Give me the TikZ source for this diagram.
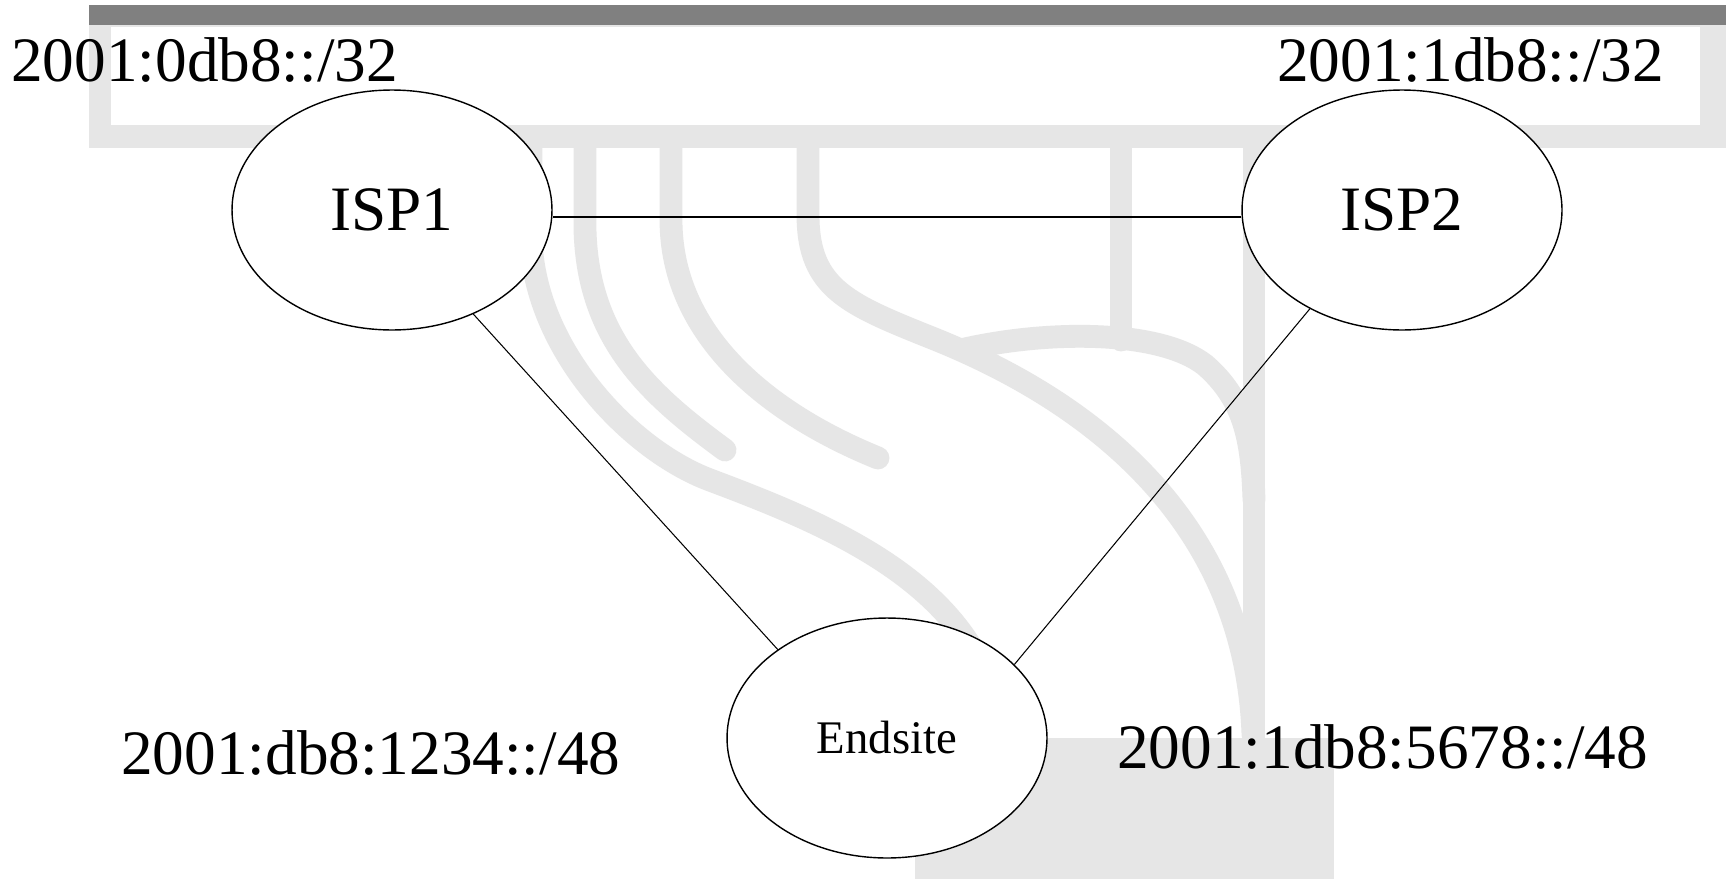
\documentclass[tikz,border=0pt]{standalone}
\usepackage{fontspec}
\setmainfont{Liberation Serif}
\usetikzlibrary{shapes.geometric}
\definecolor{wm}{HTML}{E6E6E6}
\definecolor{barc}{HTML}{808080}
\begin{document}
\begin{tikzpicture}[x=0.02cm,y=-0.02cm,
  wmline/.style={draw=wm,line width=13pt,line cap=round,line join=round},
  ispnode/.style={ellipse,draw,line width=0.8pt,fill=white,minimum width=6.4cm,minimum height=4.8cm,inner sep=0pt},
  bigtext/.style={font=\fontsize{36}{40}\selectfont},
  lbl/.style={bigtext,anchor=base west,inner sep=0pt},
  link/.style={line width=0.6pt}]
\useasboundingbox (0,0) rectangle (1726,879);
\fill[white] (0,0) rectangle (1726,879);
% watermark frame
\fill[wm] (89,25) rectangle (1726,148);
\fill[white] (111,27) rectangle (1700,125);
\fill[barc] (89,5) rectangle (1726,25);
\fill[wm] (915,738) rectangle (1334,879);
% watermark stripes
\draw[wmline] (531,145) -- (531,240) .. controls (535,350) and (630,450) .. (710,480)
  .. controls (830,525) and (960,580) .. (995,700);
\draw[wmline] (585,145) -- (585,230) .. controls (588,340) and (650,395) .. (725,450);
\draw[wmline] (671,145) -- (671,220) .. controls (671,330) and (760,410) .. (878,458);
\draw[wmline] (808,145) -- (808,215) .. controls (808,290) and (850,305) .. (937,340)
  .. controls (1060,390) and (1245,500) .. (1253,735);
\draw[wmline] (1121,145) -- (1121,340);
\draw[wmline] (965,349) .. controls (1050,330) and (1160,330) .. (1205,365)
  .. controls (1245,400) and (1252,440) .. (1254,500);
\draw[wmline] (1254,145) -- (1254,740);
% nodes
\node[ispnode,bigtext] (isp1) at (392,210) {ISP1};
\node[ispnode,bigtext] (isp2) at (1402,210) {ISP2};
\node[ispnode,font=\fontsize{26.6}{30}\selectfont] (endsite) at (887,738) {Endsite};
% labels
\node[lbl] (pa) at (11,81) {2001:0db8::/32};
\node[lbl] (pb) at (1277,81) {2001:1db8::/32};
\node[lbl] (pc) at (121,774) {2001:db8:1234::/48};
\node[lbl] (pd) at (1117,768) {2001:1db8:5678::/48};
% connectors
\draw[link] ([yshift=-0.14cm]isp1.east) -- ([yshift=-0.14cm]isp2.west);
\draw[link] (isp1.-52) -- (endsite.141);
\draw[link] (isp2.-133) -- (endsite.30);
\end{tikzpicture}
\end{document}
